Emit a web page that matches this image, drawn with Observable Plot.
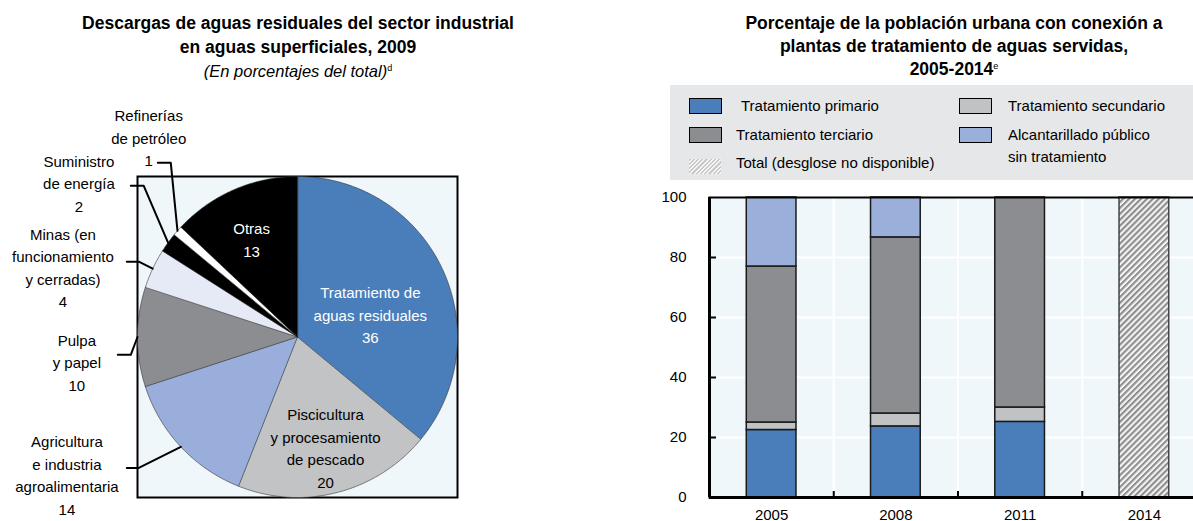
<!DOCTYPE html>
<html><head><meta charset="utf-8">
<script src="https://cdn.jsdelivr.net/npm/d3@7"></script>
<script src="https://cdn.jsdelivr.net/npm/@observablehq/plot@0.6"></script>
<style>
body{margin:0;width:1193px;height:521px;overflow:hidden;position:relative;background:#fff;
  font-family:"Liberation Sans",Arial,sans-serif;color:#000}
.title{position:absolute;text-align:center;font-weight:bold;font-size:17.5px;line-height:24px;white-space:nowrap}
.title sup{font-size:9px;font-weight:normal;vertical-align:6px;line-height:0}
.sub{font-weight:normal;font-style:italic;font-size:16.5px}
#legend{position:absolute;left:670px;top:85px;width:560px;height:95px;background:#e6e7e8}
.sw{position:absolute;width:31px;height:14px;border:1px solid #000;box-sizing:content-box}
.lt{position:absolute;font-size:15px;line-height:22px;white-space:nowrap}
#pie{position:absolute;left:0;top:90px;width:600px}
#bars{position:absolute;left:600px;top:180px;width:620px}
svg{overflow:visible;max-width:none !important}
</style></head><body>
<div class="title" style="left:0;width:596px;top:11px">Descargas de aguas residuales del sector industrial<br>en aguas superficiales, 2009<br><span class="sub">(En porcentajes del total)</span><sup>d</sup></div>
<div class="title" style="left:700px;width:508px;top:12px;line-height:23px">Porcentaje de la población urbana con conexión a<br>plantas de tratamiento de aguas servidas,<br>2005-2014<sup>e</sup></div>
<div id="legend"></div>
<div id="pie"></div>
<div id="bars"></div>
<script>
// ---------- DATA ----------
// Pie: industrial wastewater discharges to surface water, 2009 (% of total)
const pieNames = ["Tratamiento de aguas residuales", "Piscicultura y procesamiento de pescado",
  "Agricultura e industria agroalimentaria", "Pulpa y papel", "Minas (en funcionamiento y cerradas)",
  "Suministro de energía", "Refinerías de petróleo", "Otras"];
const pieValues = [36, 20, 14, 10, 4, 2, 1, 13];
const pieLabelTexts = ["Tratamiento de\naguas residuales\n36", "Piscicultura\ny procesamiento\nde pescado\n20",
  "Agricultura\ne industria\nagroalimentaria\n14", "Pulpa\ny papel\n10", "Minas (en\nfuncionamiento\ny cerradas)\n4",
  "Suministro\nde energía\n2", "Refinerías\nde petróleo\n1", "Otras\n13"];

// Bars: urban population connected to treatment plants (%)
const years = [2005, 2008, 2011, 2014];
const seriesNames = ["Tratamiento primario", "Tratamiento secundario", "Tratamiento terciario", "Alcantarillado público sin tratamiento"];
const primario = [22.5, 23.7, 25.2, null];
const secundario = [2.5, 4.3, 4.8, null];
const terciario = [52.0, 58.7, 70.0, null];
const alcantarillado = [23.0, 13.3, 0, null];
const totalSinDesglose = [null, null, null, 100];
const yTicks = [0, 20, 40, 60, 80, 100];

// ---------- STYLE / LAYOUT ----------
const FONT = '"Liberation Sans",Arial,sans-serif';
const pieColors = ["#4a7ebb", "#c2c3c5", "#9aaedb", "#8c8d91", "#e5eaf6", "#000000", "#ffffff", "#000000"];
const seriesColors = ["#4a7ebb", "#c1c2c4", "#8c8d91", "#9ab0da"];
// label anchor positions in radius units (layout)
const pieLabelPos = [[0.455, 0.145, "#fff"], [0.175, -0.684, "#000"], [-1.441, -0.852, "#000"], [-1.379, -0.151, "#000"],
  [-1.466, 0.44, "#000"], [-1.366, 0.964, "#000"], [-0.93, 1.25, "#000"], [-0.287, 0.615, "#fff"]];
// leader lines: slice index -> [elbow, end] in radius units
const leaders = [[2, [-0.992, -0.816], [-1.067, -0.816]], [3, [-1.042, -0.111], [-1.123, -0.111]],
  [4, [-0.992, 0.469], [-1.067, 0.469]], [5, [-0.961, 0.942], [-1.042, 0.942]], [6, [-0.792, 1.085], [-0.873, 1.085]]];

// ---------- PIE ----------
const arcs = d3.pie().sort(null).value(d => d)(pieValues);
const slicePts = arcs.map((a, i) => {
  const pts = [{x: 0, y: 0}];
  const n = Math.max(2, Math.ceil((a.endAngle - a.startAngle) / 0.01));
  for (let k = 0; k <= n; k++) {
    const t = a.startAngle + (a.endAngle - a.startAngle) * k / n;
    pts.push({x: Math.sin(t), y: Math.cos(t)});
  }
  return pts;
});
const labelData = pieLabelTexts.map((t, i) => ({text: t, x: pieLabelPos[i][0], y: pieLabelPos[i][1], c: pieLabelPos[i][2]}));
const leaderData = leaders.flatMap(([i, elbow, end]) => {
  const a = arcs[i], m = (a.startAngle + a.endAngle) / 2;
  return [{k: i, x: end[0], y: end[1]}, {k: i, x: elbow[0], y: elbow[1]}, {k: i, x: Math.sin(m), y: Math.cos(m)}];
});

const pie = Plot.plot({
  width: 600, height: 431, marginLeft: 137, marginRight: 143, marginTop: 86, marginBottom: 24,
  style: {fontFamily: FONT, fontSize: "15px", background: "transparent", color: "#000"},
  x: {domain: [-1, 1], axis: null},
  y: {domain: [-1, 1], axis: null},
  marks: [
    Plot.frame({fill: "#eff7fb", stroke: "#000", strokeWidth: 2}),
    ...slicePts.map((pts, i) => Plot.line(pts, {x: "x", y: "y", curve: "linear-closed",
      fill: pieColors[i], stroke: "#333", strokeWidth: 0.6})),
    Plot.line(leaderData, {x: "x", y: "y", z: "k", stroke: "#000", strokeWidth: 2}),
    Plot.text(labelData, {x: "x", y: "y", text: "text", fill: "c", lineHeight: 1.5, fontSize: 15})
  ]
});
document.getElementById("pie").append(pie);

// ---------- BARS ----------
const seriesValues = [primario, secundario, terciario, alcantarillado];
const rows = [];
years.forEach((yr, i) => {
  let cum = 0;
  seriesValues.forEach((vals, s) => {
    const v = vals[i];
    if (v > 0) { rows.push({year: yr, series: seriesNames[s], y1: cum, y2: cum + v}); cum += v; }
  });
});
const totalRows = years.map((yr, i) => ({year: yr, v: totalSinDesglose[i]})).filter(d => d.v != null);
const half = 0.6, x0 = years[0] - 1.5, x1 = years[years.length - 1] + 1.5;
const bounds = years.slice(0, -1).map(y => y + 1.5);

const bars = Plot.plot({
  width: 620, height: 345, marginLeft: 109, marginRight: 14, marginTop: 17, marginBottom: 28,
  style: {fontFamily: FONT, fontSize: "15px", background: "transparent", color: "#000"},
  x: {domain: [x0, x1], axis: null},
  y: {domain: [0, 100], axis: null},
  color: {domain: seriesNames, range: seriesColors},
  marks: [
    Plot.frame({fill: "#eff7fb"}),
    Plot.ruleY(yTicks.filter(v => v > 0 && v < 100), {stroke: "#fff", strokeWidth: 2}),
    Plot.ruleX(bounds, {stroke: "#fff", strokeWidth: 2}),
    Plot.rect(rows, {x1: d => d.year - half, x2: d => d.year + half, y1: "y1", y2: "y2", fill: "series", stroke: "#1a1a1a", strokeWidth: 1.5}),
    Plot.rect(totalRows, {x1: d => d.year - half, x2: d => d.year + half, y1: 0, y2: "v", fill: "url(#hatch)", stroke: "#444", strokeWidth: 1.5}),
    Plot.ruleY(yTicks.filter(v => v > 0 && v < 100), {x1: x0, x2: x0 + 0.17, stroke: "#000", strokeWidth: 2}),
    Plot.ruleX(bounds, {y1: 0, y2: 2, stroke: "#000", strokeWidth: 2}),
    Plot.frame({stroke: "#000", strokeWidth: 2}),
    Plot.ruleX([x0], {stroke: "#000", strokeWidth: 3}),
    Plot.ruleY([0], {stroke: "#000", strokeWidth: 3}),
    Plot.axisY({ticks: yTicks, tickSize: 0, tickPadding: 23, fontSize: 15}),
    Plot.axisX({ticks: years, tickSize: 0, tickPadding: 12, fontSize: 15, tickFormat: d => String(d)})
  ]
});
const defs = d3.select(bars).insert("defs", ":first-child");
const pat = defs.append("pattern").attr("id", "hatch").attr("patternUnits", "userSpaceOnUse")
  .attr("width", 4.2).attr("height", 4.2).attr("patternTransform", "rotate(45)");
pat.append("rect").attr("width", 4.2).attr("height", 4.2).attr("fill", "#f4f4f4");
pat.append("rect").attr("width", 2.1).attr("height", 4.2).attr("fill", "#8e8e8e");
document.getElementById("bars").append(bars);

// ---------- LEGEND ----------
const legend = document.getElementById("legend");
const legendItems = [
  {name: seriesNames[0], fill: seriesColors[0], sx: 19, sy: 13, tx: 71, ty: 10},
  {name: seriesNames[1], fill: seriesColors[1], sx: 289, sy: 13, tx: 338, ty: 10},
  {name: seriesNames[2], fill: seriesColors[2], sx: 19, sy: 42, tx: 66, ty: 39},
  {name: "Alcantarillado público\nsin tratamiento", fill: seriesColors[3], sx: 289, sy: 42, tx: 338, ty: 39},
  {name: "Total (desglose no disponible)", fill: "repeating-linear-gradient(135deg,#c9c9c9 0 1.5px,#f6f6f6 1.5px 3px)", sx: 19, sy: 74, tx: 66, ty: 67, noBorder: true}
];
legendItems.forEach(it => {
  const s = document.createElement("div");
  s.className = "sw";
  s.style.left = it.sx + "px"; s.style.top = it.sy + "px"; s.style.background = it.fill;
  if (it.noBorder) { s.style.border = "none"; s.style.width = "32px"; s.style.height = "15px"; }
  legend.append(s);
  const t = document.createElement("div");
  t.className = "lt";
  t.style.left = it.tx + "px"; t.style.top = it.ty + "px";
  t.innerHTML = it.name.replace("\n", "<br>");
  legend.append(t);
});
</script>
</body></html>
